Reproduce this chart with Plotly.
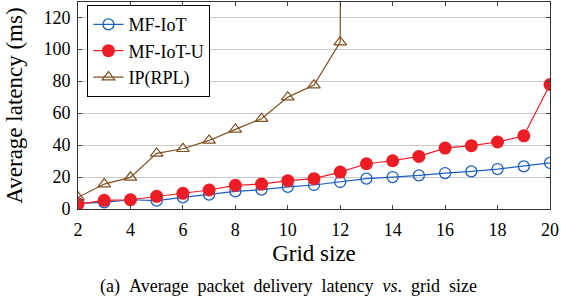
import plotly.graph_objects as go

grid = list(range(2, 21))
mf_iot = [3.5, 4.2, 5.8, 5.2, 7.3, 9.0, 11.0, 12.1, 13.8, 15.0, 16.9, 19.0, 20.0, 21.0, 22.5, 23.5, 25.0, 26.7, 28.8]
mf_iot_u = [3.1, 5.4, 5.8, 7.9, 9.8, 11.9, 14.8, 15.6, 17.7, 19.0, 23.1, 28.3, 30.2, 32.9, 38.1, 39.6, 41.9, 45.8, 77.9]
rpl_grid = [2, 3, 4, 5, 6, 7, 8, 9, 10, 11, 12, 13]
ip_rpl = [7.3, 15.6, 19.8, 34.8, 37.7, 42.9, 49.8, 56.5, 70.0, 77.5, 104.4, 5000]

x_ticks = [2, 4, 6, 8, 10, 12, 14, 16, 18, 20]
y_ticks = [0, 20, 40, 60, 80, 100, 120]

FONT = "Liberation Serif"
BLUE = "#1f5fbf"
RED = "#ee1c25"
BROWN = "#7f4f1f"

fig = go.Figure()
fig.add_trace(go.Scatter(x=grid, y=mf_iot, name="MF-IoT", mode="lines+markers",
                         line=dict(color=BLUE, width=1.2),
                         marker=dict(symbol="circle-open", size=11, color=BLUE, line=dict(width=1.3))))
fig.add_trace(go.Scatter(x=grid, y=mf_iot_u, name="MF-IoT-U", mode="lines+markers",
                         line=dict(color=RED, width=1.2),
                         marker=dict(symbol="circle", size=13, color=RED)))
fig.add_trace(go.Scatter(x=rpl_grid, y=ip_rpl, name="IP(RPL)", mode="lines+markers",
                         line=dict(color=BROWN, width=1.2),
                         marker=dict(symbol="triangle-up-open", size=11, color=BROWN, line=dict(width=1.2)),
                         cliponaxis=True))

fig.update_layout(
    width=561, height=300,
    margin=dict(l=78, r=11, t=2, b=91),
    paper_bgcolor="white", plot_bgcolor="white",
    font=dict(family=FONT, size=18, color="black"),
    showlegend=True,
    legend=dict(x=0.02, y=0.985, xanchor="left", yanchor="top",
                bgcolor="white", bordercolor="black", borderwidth=1,
                font=dict(family=FONT, size=18), itemwidth=30,
                tracegroupgap=0),
    xaxis=dict(range=[2, 20], tickvals=x_ticks, ticks="inside", ticklen=4,
               showline=True, linecolor="#333", linewidth=1, mirror="ticks",
               showgrid=False, zeroline=False, ticklabelstandoff=4,
               title=dict(text="Grid size", font=dict(family=FONT, size=23), standoff=6),
               tickfont=dict(family=FONT, size=18)),
    yaxis=dict(range=[0, 129.5], tickvals=y_ticks, ticks="inside", ticklen=4,
               showline=True, linecolor="#333", linewidth=1, mirror="ticks",
               showgrid=True, gridcolor="#c8c8c8", gridwidth=1, zeroline=False,
               ticklabelstandoff=3,
               title=dict(text="Average latency (ms)", font=dict(family=FONT, size=23), standoff=14),
               tickfont=dict(family=FONT, size=18)),
)

caption = "(a) &nbsp;Average &nbsp;packet &nbsp;delivery &nbsp;latency &nbsp;<i>vs</i>. &nbsp;grid &nbsp;size"
fig.add_annotation(text=caption,
                   xref="paper", yref="paper", x=0.446, y=0, yshift=-65,
                   xanchor="center", yanchor="top", showarrow=False,
                   font=dict(family=FONT, size=18))

fig.write_html("out.html", config={"displayModeBar": False},
               post_script="document.body.style.margin='0px';document.body.style.padding='0px';")
